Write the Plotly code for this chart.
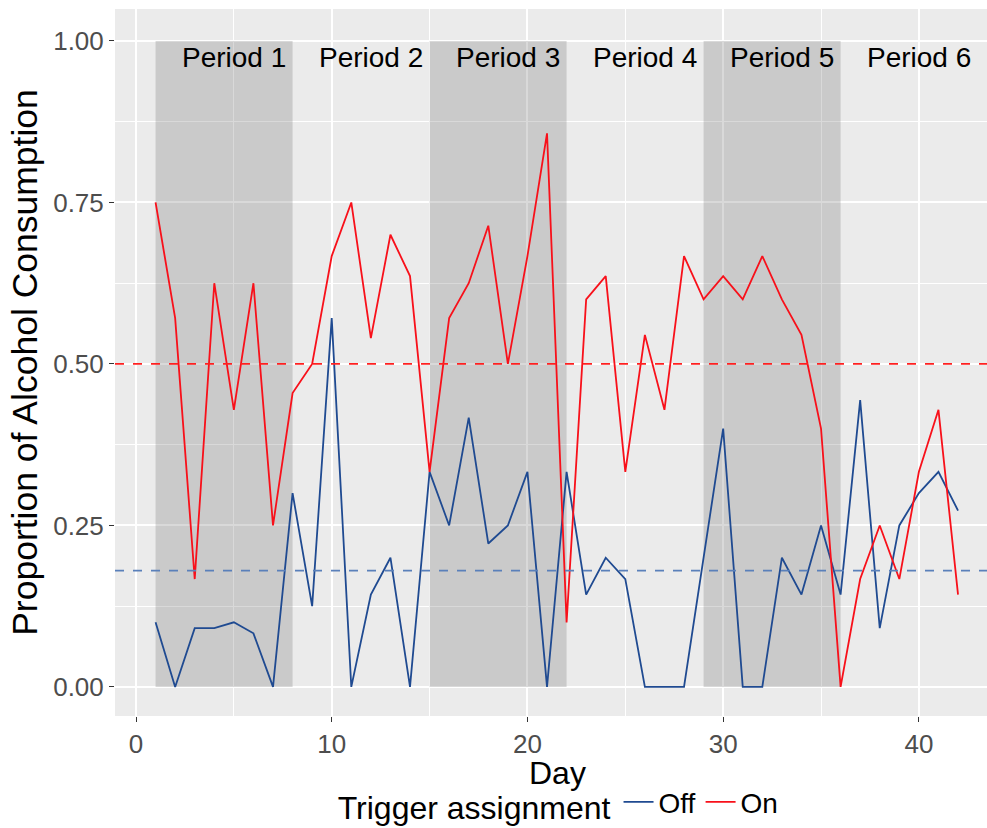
import plotly.graph_objects as go

days = list(range(1, 43))
on_vals = [0.75, 0.571, 0.167, 0.625, 0.429, 0.625, 0.25, 0.455, 0.5, 0.667,
           0.75, 0.54, 0.7, 0.636, 0.333, 0.571, 0.625, 0.714, 0.5, 0.667,
           0.857, 0.1, 0.6, 0.636, 0.333, 0.545, 0.429, 0.667, 0.6, 0.636,
           0.6, 0.667, 0.6, 0.545, 0.4, 0.0, 0.167, 0.25, 0.167, 0.333,
           0.429, 0.143]
off_vals = [0.1, 0.0, 0.091, 0.091, 0.1, 0.083, 0.0, 0.3, 0.125, 0.571,
            0.0, 0.143, 0.2, 0.0, 0.333, 0.25, 0.417, 0.222, 0.25, 0.333,
            0.0, 0.333, 0.143, 0.2, 0.167, 0.0, 0.0, 0.0, 0.2, 0.4,
            0.0, 0.0, 0.2, 0.143, 0.25, 0.143, 0.444, 0.091, 0.25, 0.3,
            0.333, 0.273]
mean_on = 0.5
mean_off = 0.18

shade_starts = [1, 15, 29]
shade_ends = [8, 22, 36]
period_labels = ["Period 1", "Period 2", "Period 3", "Period 4", "Period 5", "Period 6"]
period_label_x = [5, 12, 19, 26, 33, 40]
period_label_y = 0.975

x_ticks = [0, 10, 20, 30, 40]
y_ticks = [0.0, 0.25, 0.5, 0.75, 1.0]
y_tick_text = ["0.00", "0.25", "0.50", "0.75", "1.00"]
x_title = "Day"
y_title = "Proportion of Alcohol Consumption"
legend_title = "Trigger assignment"

FONT = "Liberation Sans, Arial, Helvetica, sans-serif"
BLUE = "#1F4A91"
RED = "#F8101A"

fig = go.Figure()

fig.add_trace(go.Scatter(x=days, y=off_vals, mode="lines", name="Off",
                         line=dict(color=BLUE, width=1.8)))
fig.add_trace(go.Scatter(x=days, y=on_vals, mode="lines", name="On",
                         line=dict(color=RED, width=1.8)))

for s, e in zip(shade_starts, shade_ends):
    fig.add_shape(type="rect", xref="x", yref="y", x0=s, x1=e, y0=0, y1=1,
                  fillcolor="rgba(120,120,120,0.28)", line_width=0, layer="between")

fig.add_hline(y=mean_on, line=dict(color="#FF2020", width=1.8, dash="dash"))
fig.add_hline(y=mean_off, line=dict(color="#5A80BA", width=1.8, dash="dash"))

for lab, lx in zip(period_labels, period_label_x):
    fig.add_annotation(x=lx, y=period_label_y, text=lab, showarrow=False,
                       xref="x", yref="y", font=dict(size=28, color="black", family=FONT))

# x-axis title placed below tick labels
fig.add_annotation(x=0.508, y=-0.08, xref="paper", yref="paper", text=x_title,
                   showarrow=False, xanchor="center", yanchor="middle",
                   font=dict(size=32, color="black", family=FONT))

fig.update_layout(
    width=987, height=828,
    margin=dict(l=115, r=0, t=9, b=112, autoexpand=False),
    paper_bgcolor="white",
    plot_bgcolor="#EBEBEB",
    font=dict(family=FONT),
    showlegend=True,
    legend=dict(orientation="h", x=0.51, xanchor="center",
                yref="container", y=0.03, yanchor="middle",
                title=dict(text=legend_title, side="left",
                           font=dict(size=32, color="black", family=FONT)),
                font=dict(size=28, color="black", family=FONT),
                itemwidth=30, bgcolor="rgba(0,0,0,0)"),
)

fig.update_xaxes(range=[-1.073, 43.48], tickvals=x_ticks, ticks="outside", ticklen=5,
                 tickcolor="#333333", tickwidth=1.2, automargin=False,
                 tickfont=dict(size=26, color="#4D4D4D", family=FONT),
                 showgrid=True, gridcolor="white", gridwidth=1.6, zeroline=False,
                 minor=dict(dtick=5, tick0=5, showgrid=True, gridcolor="white", gridwidth=0.8, ticks=""),
                 showline=False)
fig.update_yaxes(range=[-0.045, 1.0495], tickvals=y_ticks, ticktext=y_tick_text,
                 ticks="outside", ticklen=5, tickcolor="#333333", tickwidth=1.2, automargin=True,
                 tickfont=dict(size=26, color="#4D4D4D", family=FONT),
                 showgrid=True, gridcolor="white", gridwidth=1.6, zeroline=False,
                 minor=dict(dtick=0.25, tick0=0.125, showgrid=True, gridcolor="white", gridwidth=0.8, ticks=""),
                 title=dict(text=y_title,
                            font=dict(size=35.5, color="black", family=FONT), standoff=4),
                 showline=False)

fig.write_html("out.html", config={"displayModeBar": False},
               post_script="document.body.style.margin='0';")
